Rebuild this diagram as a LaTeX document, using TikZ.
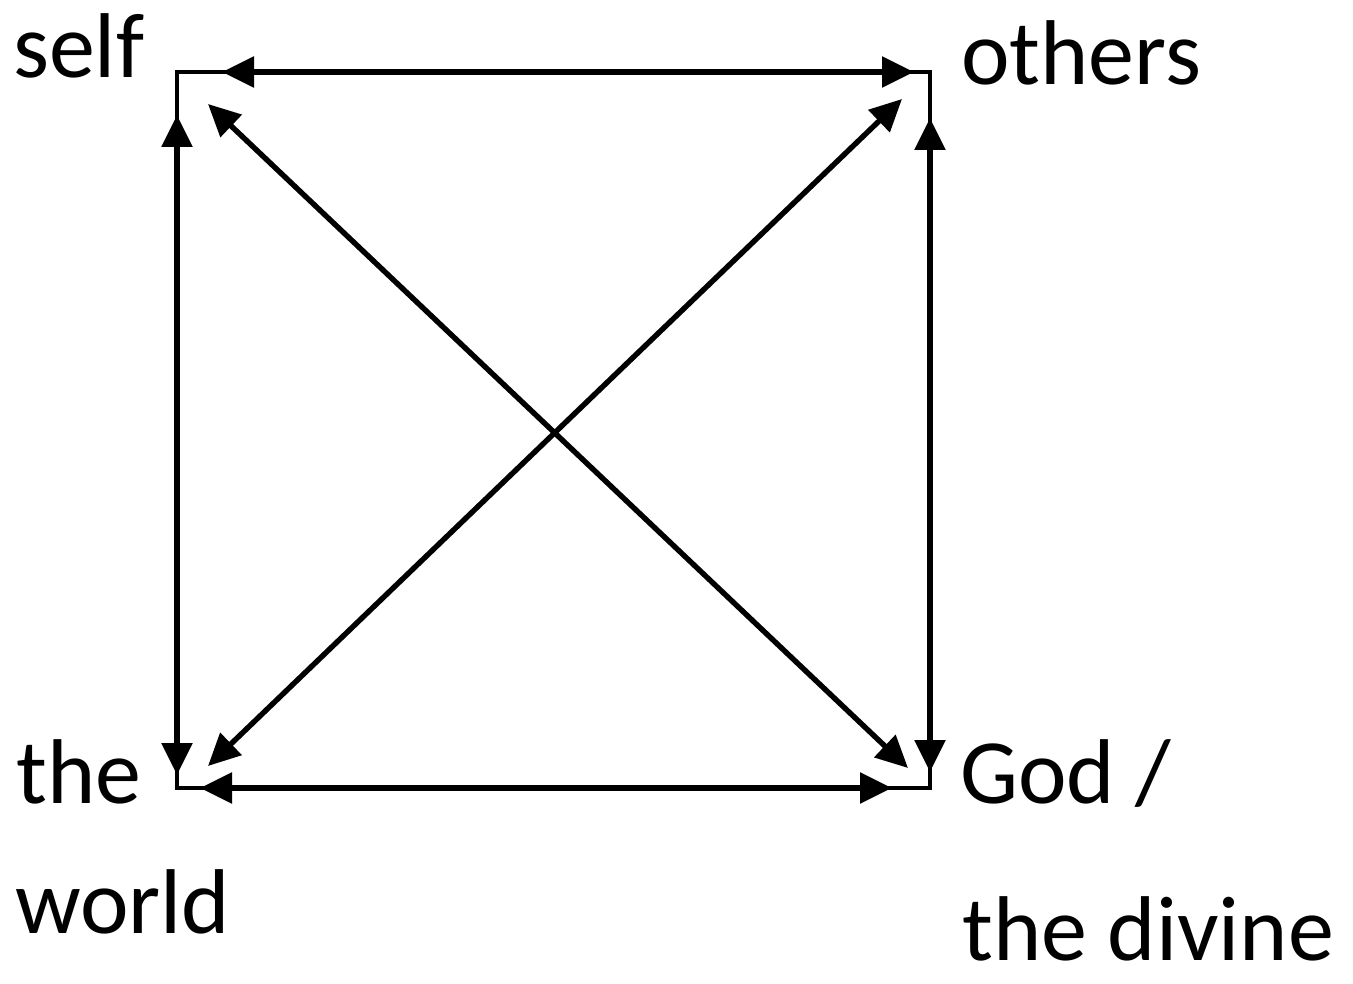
\documentclass[tikz,border=0pt]{standalone}
\usepackage{fontspec}
\setmainfont{Carlito}
\usetikzlibrary{arrows.meta}
\begin{document}
\begin{tikzpicture}[x=1pt,y=-1pt,
  lbl/.style={anchor=base west,inner sep=0pt,font=\fontsize{92}{92}\selectfont},
  frame/.style={line width=3.6pt},
  biarrow/.style={line width=5.4pt,{Triangle[length=32pt,width=30pt]}-{Triangle[length=32pt,width=30pt]}}]
\useasboundingbox (0,0) rectangle (1353,984);
% corners
\coordinate (TL) at (177,72);
\coordinate (TR) at (930,72);
\coordinate (BL) at (177,788);
\coordinate (BR) at (930,788);
% arrow ends
\coordinate (tA) at (222,72);   \coordinate (tB) at (914,72);
\coordinate (lA) at (177,115);  \coordinate (lB) at (177,775);
\coordinate (rA) at (930,118);  \coordinate (rB) at (930,772);
\coordinate (bA) at (200,788);  \coordinate (bB) at (892,788);
\coordinate (d1A) at (208,104); \coordinate (d1B) at (908,768);
\coordinate (d2A) at (902,99);  \coordinate (d2B) at (208,766);
\draw[frame] (TL) -- (TR) -- (BR) -- (BL) -- cycle;
\draw[biarrow] (tA) -- (tB);
\draw[biarrow] (lA) -- (lB);
\draw[biarrow] (rA) -- (rB);
\draw[biarrow] (bA) -- (bB);
\draw[biarrow] (d1A) -- (d1B);
\draw[biarrow] (d2A) -- (d2B);
% labels
\node[lbl] (self) at (13,78) {self};
\node[lbl] (others) at (961,85) {others};
\node[lbl] (the) at (16,803) {the};
\node[lbl] (world) at (15,933) {world};
\node[lbl] (god) at (960,803) {God /};
\node[lbl] (divine) at (962,960) {the divine};
\end{tikzpicture}
\end{document}
